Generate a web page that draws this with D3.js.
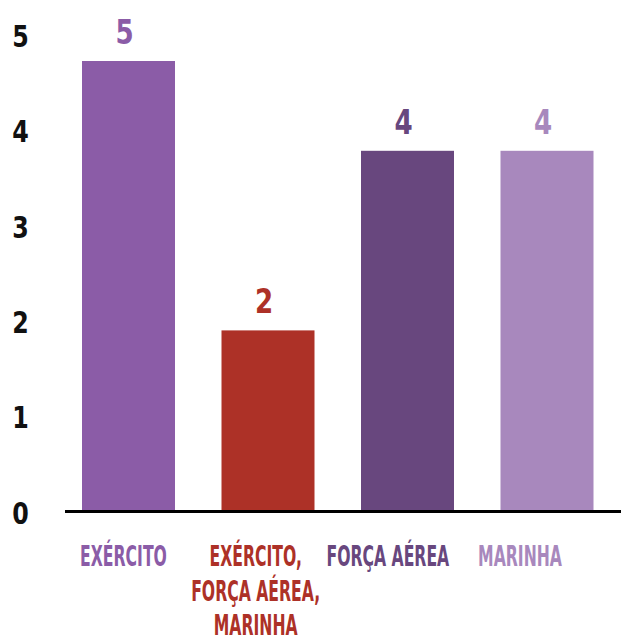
<!DOCTYPE html>
<html>
<head>
<meta charset="utf-8">
<script src="https://cdn.jsdelivr.net/npm/d3@7"></script>
<style>
  html, body { margin: 0; padding: 0; background: #ffffff; }
  svg { display: block; }
  text { font-family: "DejaVu Sans Condensed", "DejaVu Sans", sans-serif; font-weight: 700; }
</style>
</head>
<body>
<svg id="chart" width="621" height="642"></svg>
<script>
// Ramos das Forças Armadas e número de ocorrências
const categories = ["EXÉRCITO", "EXÉRCITO, FORÇA AÉREA, MARINHA", "FORÇA AÉREA", "MARINHA"];
const labelLines = [["EXÉRCITO"], ["EXÉRCITO,", "FORÇA AÉREA,", "MARINHA"], ["FORÇA AÉREA"], ["MARINHA"]];
const values = [5, 2, 4, 4];
const colors = ["#8b5ca7", "#ad3127", "#68477e", "#a888bd"];
const tickValues = [0, 1, 2, 3, 4, 5];

const svg = d3.select("#chart");

// Scales
const x = d3.scaleBand()
  .domain(categories)
  .range([82, 593.5])
  .paddingInner(1 / 3)
  .paddingOuter(0);

const y = d3.scaleLinear().domain([0, 5]).range([510, 61]);
const yTick = d3.scaleLinear().domain([0, 5]).range([513, 36]);
const xLabel = d3.scalePoint().domain(categories).range([123.5, 520]);

// Y tick labels (no axis line)
svg.append("g")
  .selectAll("text")
  .data(tickValues)
  .join("text")
  .attr("transform", d => `translate(20.5,${yTick(d)}) scale(0.88,1)`)
  .attr("dy", "0.36em")
  .attr("text-anchor", "middle")
  .attr("font-size", 30)
  .attr("fill", "#111111")
  .text(d => d);

// Bars
svg.append("g")
  .selectAll("rect")
  .data(values)
  .join("rect")
  .attr("x", (d, i) => x(categories[i]))
  .attr("y", d => y(d))
  .attr("width", x.bandwidth())
  .attr("height", d => y(0) - y(d))
  .attr("fill", (d, i) => colors[i]);

// Value labels above bars
svg.append("g")
  .selectAll("text")
  .data(values)
  .join("text")
  .attr("transform", (d, i) =>
    `translate(${x(categories[i]) + x.bandwidth() / 2 - 4},${y(d) - 17}) scale(0.88,1)`)
  .attr("text-anchor", "middle")
  .attr("font-size", 33)
  .attr("fill", (d, i) => colors[i])
  .text(d => d);

// Baseline
svg.append("line")
  .attr("x1", 65)
  .attr("x2", 621)
  .attr("y1", y(0) + 1.5)
  .attr("y2", y(0) + 1.5)
  .attr("stroke", "#000000")
  .attr("stroke-width", 3);

// Category labels (condensed, multi-line)
const catG = svg.append("g");
labelLines.forEach((lines, i) => {
  lines.forEach((line, j) => {
    catG.append("text")
      .attr("transform", `translate(${xLabel(categories[i])},${566 + j * 34.5}) scale(0.6,1)`)
      .attr("text-anchor", "middle")
      .attr("font-size", 29)
      .attr("fill", colors[i])
      .text(line);
  });
});
</script>
</body>
</html>
